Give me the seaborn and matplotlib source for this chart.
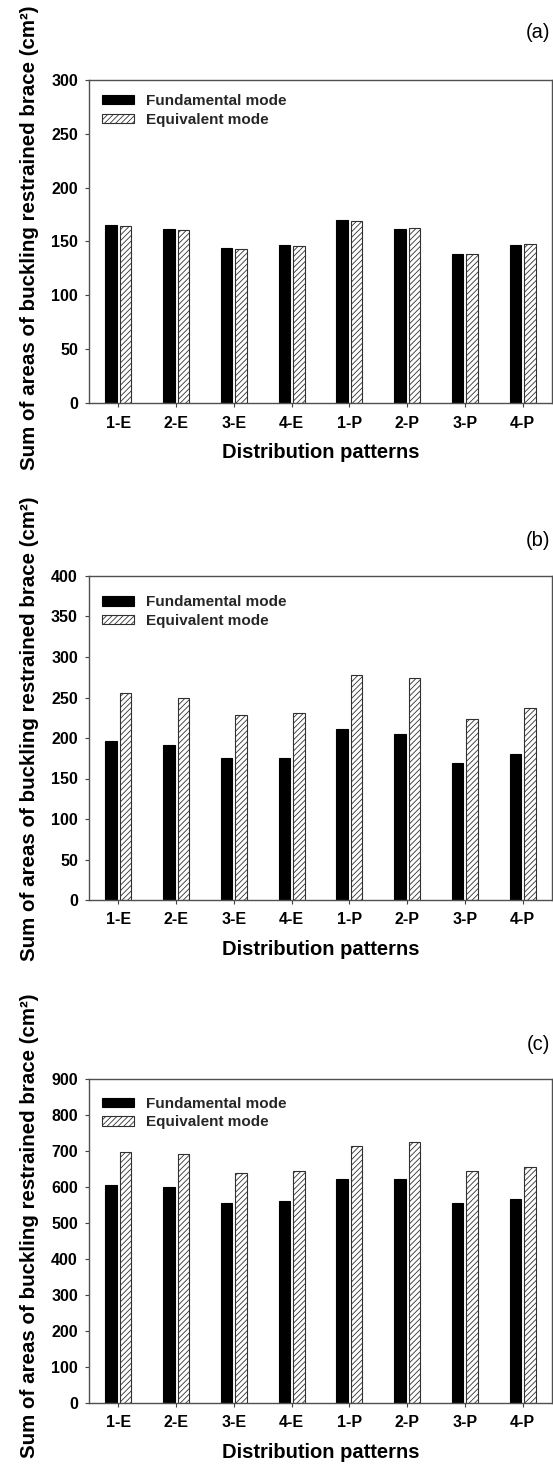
import numpy as np
import pandas as pd
import matplotlib
matplotlib.use("Agg")
import matplotlib.pyplot as plt
import seaborn as sns

# ---------------- data ----------------
patterns = ["1-E", "2-E", "3-E", "4-E", "1-P", "2-P", "3-P", "4-P"]
modes = ["Fundamental mode", "Equivalent mode"]

a_fund = [165.5, 161.5, 144.0, 147.2, 170.0, 162.0, 138.5, 147.2]
a_equiv = [164.0, 160.3, 142.7, 146.0, 169.3, 162.4, 138.3, 147.3]

b_fund = [196.0, 191.0, 175.3, 175.7, 211.0, 205.3, 169.5, 180.7]
b_equiv = [255.0, 249.0, 229.0, 231.0, 277.5, 273.5, 223.5, 237.5]

c_fund = [606.0, 601.0, 557.0, 560.0, 622.0, 623.5, 557.0, 566.0]
c_equiv = [698.0, 693.0, 640.0, 645.0, 715.0, 725.0, 645.0, 655.0]

panel_letters = ["(a)", "(b)", "(c)"]
y_max = [300, 400, 900]
y_step = [50, 50, 100]

# ---------------- style ----------------
sns.set_theme(style="white")
plt.rcParams["font.family"] = ["Liberation Sans", "DejaVu Sans"]
plt.rcParams["hatch.linewidth"] = 0.6

W, H = 553, 1471
fig = plt.figure(figsize=(W / 100, H / 100), dpi=100)

ax_left, ax_right = 89, 552
tops = [80, 576, 1079.3]
bottoms = [403, 900, 1402.7]
letter_y = [32, 540, 1044]
legend_y = [0.956, 0.940, 0.946]
ylabel_y = [0.512, 0.53, 0.548]

series = [(a_fund, a_equiv), (b_fund, b_equiv), (c_fund, c_equiv)]

for i in range(3):
    fund, equiv = series[i]
    ax = fig.add_axes([ax_left / W, 1 - bottoms[i] / H,
                       (ax_right - ax_left) / W, (bottoms[i] - tops[i]) / H])
    df = pd.DataFrame({
        "pattern": patterns * 2,
        "area": list(fund) + list(equiv),
        "mode": [modes[0]] * len(patterns) + [modes[1]] * len(patterns),
    })
    sns.barplot(data=df, x="pattern", y="area", hue="mode", hue_order=modes,
                palette=["black", "white"], width=0.5, gap=0.2,
                edgecolor="#303030", linewidth=0.8, legend=False,
                errorbar=None, ax=ax)
    for p in ax.containers[0]:
        p.set_edgecolor("black")
    for p in ax.containers[1]:
        p.set_hatch("//////")
        p.set_edgecolor("#303030")

    ax.set_xlim(-0.51, 7.51)
    ax.set_ylim(0, y_max[i])
    ax.set_yticks(np.arange(0, y_max[i] + 1, y_step[i]))

    for s in ax.spines.values():
        s.set_visible(True)
        s.set_color("#505050")
        s.set_linewidth(1.0)

    ax.tick_params(axis="both", direction="out", length=3, width=0.8,
                   color="#404040", labelsize=11.5,
                   bottom=True, left=True)
    ax.tick_params(axis="x", pad=6)
    ax.tick_params(axis="y", pad=5)
    for lab in ax.get_xticklabels() + ax.get_yticklabels():
        lab.set_fontweight("bold")
        lab.set_color("black")

    ax.set_xlabel("Distribution patterns", fontsize=14.5, fontweight="bold",
                  color="black")
    ax.xaxis.set_label_coords(0.5, -0.124)
    ax.set_ylabel("Sum of areas of buckling restrained brace (cm\u00b2)",
                  fontsize=14.8, fontweight="bold", color="black")
    ax.yaxis.set_label_coords(-0.108, ylabel_y[i])

    ax.legend(ax.containers, modes, loc="upper left",
              bbox_to_anchor=(0.028, legend_y[i]), frameon=False, borderpad=0,
              borderaxespad=0, handlelength=2.1, handleheight=0.55,
              handletextpad=0.78, labelspacing=0.31,
              prop={"weight": "bold", "size": 11})

    fig.text(538 / W, 1 - letter_y[i] / H, panel_letters[i], ha="center",
             va="center", fontsize=14.5, color="black")

fig.savefig("out.png", dpi=100)
